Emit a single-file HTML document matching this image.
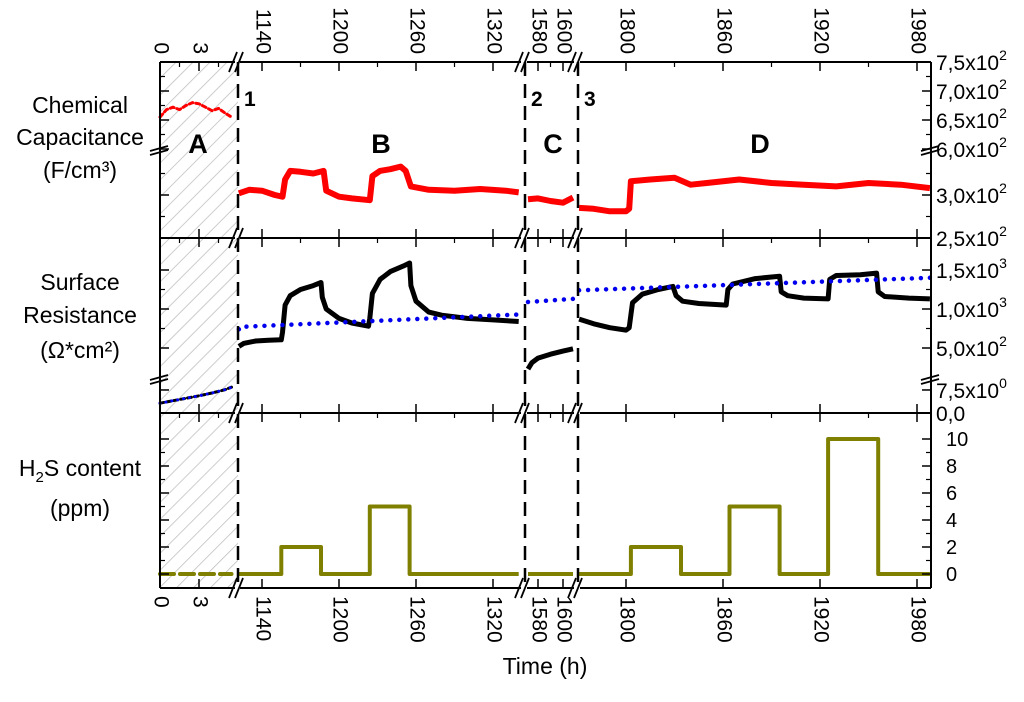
<!DOCTYPE html>
<html><head><meta charset="utf-8"><style>
body{margin:0;background:#fff}
svg text{font-family:"Liberation Sans",sans-serif;fill:#000}
</style></head><body>
<svg id="chart" width="1024" height="697" viewBox="0 0 1024 697" xmlns="http://www.w3.org/2000/svg">
<defs>
<pattern id="hatch" patternUnits="userSpaceOnUse" width="12" height="12" patternTransform="rotate(45)">
<line x1="0" y1="0" x2="0" y2="12" stroke="#c0c0c0" stroke-width="1.6"/>
</pattern>
</defs>
<rect x="160" y="62" width="78" height="526" fill="url(#hatch)"/>
<g id="marks"></g>
<g id="axes"></g>
<g text-anchor="middle">
<text x="80" y="113" font-size="23">Chemical</text>
<text x="80" y="145" font-size="23">Capacitance</text>
<text x="80" y="178" font-size="23">(F/cm³)</text>
<text x="80" y="290" font-size="23">Surface</text>
<text x="80" y="323" font-size="23">Resistance</text>
<text x="80" y="358" font-size="23">(Ω*cm²)</text>
<text x="80" y="476" font-size="23">H<tspan font-size="15" dy="6">2</tspan><tspan dy="-6">S content</tspan></text>
<text x="80" y="516" font-size="23">(ppm)</text>
</g>
<text x="545" y="674" font-size="23" text-anchor="middle">Time (h)</text>
<g font-weight="bold">
<text x="244" y="106" font-size="21">1</text>
<text x="531" y="106" font-size="21">2</text>
<text x="584" y="106" font-size="21">3</text>
<text x="198" y="153" font-size="27" text-anchor="middle">A</text>
<text x="381" y="153" font-size="27" text-anchor="middle">B</text>
<text x="553" y="153" font-size="27" text-anchor="middle">C</text>
<text x="760" y="153" font-size="27" text-anchor="middle">D</text>
</g>
</svg>
<script>
// ---- data ----
const capA_t=[0,0.5,1,1.5,2,2.5,3,3.5,4,4.5,5,5.5];
const capA_v=[655,668,672,668,675,680,678,672,666,670,662,655];
const capB_t=[1122,1130,1140,1150,1156,1158,1162,1170,1180,1188,1190,1200,1210,1224,1226,1232,1240,1248,1252,1256,1270,1290,1310,1330,1340];
const capB_v=[302,306,305,300,298,318,328,327,325,328,305,298,296,294,322,328,330,333,328,310,306,305,307,305,303];
const capC_t=[1572,1580,1590,1600,1608];
const capC_v=[295,296,293,291,297];
const capD_t=[1771,1780,1790,1800,1802,1803,1815,1830,1840,1850,1870,1890,1910,1930,1950,1970,1988];
const capD_v=[285,284,281,281,284,316,318,320,312,314,318,314,312,310,314,312,308];
const resA_t=[0,1,2,3,4,5,5.5];
const resA_v=[3.2,4.0,4.8,5.6,6.5,7.6,8.4];
const resB_t=[1122,1126,1135,1145,1155,1156,1158,1162,1170,1180,1186,1187,1190,1200,1210,1223,1224,1226,1232,1240,1250,1255,1256,1260,1270,1280,1300,1320,1340];
const resB_v=[520,560,590,600,605,700,1050,1170,1250,1300,1340,1150,1000,880,820,780,880,1200,1380,1480,1550,1590,1300,1100,960,920,880,860,840];
const blueB_t=[1122,1123,1340];
const blueB_v=[740,770,930];
const resC_t=[1572,1575,1580,1590,1600,1608];
const resC_v=[230,310,370,420,460,490];
const blueC_t=[1572,1608];
const blueC_v=[1090,1130];
const resD_t=[1771,1780,1790,1800,1802,1804,1810,1820,1829,1831,1835,1845,1862,1863,1866,1880,1895,1896,1900,1910,1925,1926,1930,1945,1955,1956,1960,1975,1988];
const resD_v=[870,810,760,730,760,1080,1190,1250,1290,1170,1100,1070,1050,1250,1320,1390,1420,1220,1170,1140,1130,1380,1430,1440,1460,1220,1160,1140,1130];
const blueD_t=[1771,1988];
const blueD_v=[1240,1400];
const h2sB_t=[1122,1155,1155,1186,1186,1224,1224,1255,1255,1340];
const h2sB_v=[0,0,2,2,0,0,5,5,0,0];
const h2sC_t=[1572,1608];
const h2sC_v=[0,0];
const h2sD_t=[1771,1803,1803,1834,1834,1864,1864,1895,1895,1925,1925,1956,1956,1988];
const h2sD_v=[0,0,2,2,0,0,5,5,0,0,10,10,0,0];
const h2sA_t=[0,5.5];
const h2sA_v=[0,0];
const xTicksA=[0,3], xTicksB=[1140,1200,1260,1320], xTicksC=[1580,1600], xTicksD=[1800,1860,1920,1980];
const capTickLabels=["7,5x10²","7,0x10²","6,5x10²","6,0x10²","3,0x10²","2,5x10²"];
const capTickVals=[750,700,650,600,300,250];
const resTickLabels=["1,5x10³","1,0x10³","5,0x10²","7,5x10⁰","0,0"];
const resTickVals=[1500,1000,500,7.5,0];
const h2sTickVals=[0,2,4,6,8,10];

// ---- scales ----
const L=160,R=931,T=62,M1=238,M2=413,B=588;
const segs=[{t0:0,x0:160,k:13,x1:238,s:160},{t0:1140,x0:262,k:77/60,x1:524,s:240},{t0:1580,x0:538,k:1.25,x1:577,s:527},{t0:1800,x0:626,k:97/60,x1:931,s:580}];
function seg(t){return t<100?segs[0]:t<1500?segs[1]:t<1700?segs[2]:segs[3];}
function xOf(t){const s=seg(t);return s.x0+(t-s.t0)*s.k;}
function yCap(v){return v>=600?149-(v-600)*0.58:195-(v-300)*0.86;}
function yRes(v){return v>=100?348-(v-500)*0.078:413-v*3.07;}
function yH(v){return 574-v*13.5;}
const NS="http://www.w3.org/2000/svg";
const marks=document.getElementById('marks'),axes=document.getElementById('axes');
function el(tag,attrs,parent){const e=document.createElementNS(NS,tag);for(const k in attrs)e.setAttribute(k,attrs[k]);parent.appendChild(e);return e;}
function series(ts,vs,yf,name,stroke,w,dash){
  const pts=ts.map((t,i)=>xOf(t).toFixed(1)+','+yf(vs[i]).toFixed(1)).join(' ');
  const p=el('polyline',{points:pts,fill:'none',stroke:stroke,'stroke-width':w,'stroke-linejoin':'round','stroke-linecap':dash?'round':'butt'},marks);
  if(dash)p.setAttribute('stroke-dasharray',dash);
  
  
}
series(capA_t,capA_v,yCap,'capacitance-a','#f00',3,'4 3');
series(capB_t,capB_v,yCap,'capacitance-b','#f00',6);
series(capC_t,capC_v,yCap,'capacitance-c','#f00',6);
series(capD_t,capD_v,yCap,'capacitance-d','#f00',6);
series(resA_t,resA_v,yRes,'resistance-a','#000',3,'4 3');
series(resB_t,resB_v,yRes,'resistance-b','#000',5);
series(resC_t,resC_v,yRes,'resistance-c','#000',5);
series(resD_t,resD_v,yRes,'resistance-d','#000',5);
series(resA_t,resA_v,yRes,'fit-a','#00f',3,'0 6');
series(blueB_t,blueB_v,yRes,'fit-b','#0000ee',4.5,'0 9');
series(blueC_t,blueC_v,yRes,'fit-c','#0000ee',4.5,'0 9');
series(blueD_t,blueD_v,yRes,'fit-d','#0000ee',4.5,'0 9');
series(h2sA_t,h2sA_v,yH,'h2s-a','#808000',4,'14 6');
series(h2sB_t,h2sB_v,yH,'h2s-b','#808000',4);
series(h2sC_t,h2sC_v,yH,'h2s-c','#808000',4);
series(h2sD_t,h2sD_v,yH,'h2s-d','#808000',4);

// ---- frame ----
function line(x1,y1,x2,y2,w,name,dash){const l=el('line',{x1,y1,x2,y2,stroke:'#000','stroke-width':w||2},axes);if(dash)l.setAttribute('stroke-dasharray',dash);return l;}
line(L,T,L,B,2,'left-axis');line(R,T,R,B,2,'right-axis');
[T,M1,M2,B].forEach(y=>{segs.forEach((s,i)=>{line(s.s,y,s.x1-(i<3?3:0),y,2,'panel-border');});});
line(238,62,238,588,2.5,'divider-1','14 8');
line(525,62,525,588,2.5,'divider-2','14 8');
line(578,62,578,588,2.5,'divider-3','14 8');
[238,524,577].forEach(x=>{[T,M1,M2,B].forEach(y=>{line(x-9,y+10,x-1,y-10,1.8,'axis-break');line(x-3,y+10,x+5,y-10,1.8,'axis-break');});});
[[L,149],[L,378],[R,149],[R,378]].forEach(([x,y])=>{line(x-10,y+2,x+8,y-3,1.8,'axis-break');line(x-10,y+6,x+8,y+1,1.8,'axis-break');});
function xticks(arr,minorStep,s){
  arr.forEach(t=>{const x=xOf(t);
    [T,M1,M2].forEach(y=>line(x,y,x,y+9,1.5,'x-tick'));[M1,M2,B].forEach(y=>line(x,y,x,y-9,1.5,'x-tick'));
    [[T-8,'top'],[B+8,'bottom']].forEach(([y,pos])=>{
      const tx=el('text',{x:x,y:y,'font-size':21,transform:`rotate(90 ${x} ${y})`,'dominant-baseline':'middle','text-anchor':pos=='top'?'end':'start'},axes);
      tx.textContent=t;
      
      
    });
    const xm=xOf(t+minorStep);
    if(xm<s.x1-4)[T,M1,M2].forEach(y=>line(xm,y,xm,y+5,1.2,'x-minor-tick'));
  });
}
xticks(xTicksA,1.5,segs[0]);xticks(xTicksB,30,segs[1]);xticks(xTicksC,10,segs[2]);xticks(xTicksD,30,segs[3]);
function ytick(y,label,name){line(R-9,y,R,y,1.5,name);line(L,y,L+9,y,1.5,name);
  if(label!==null){const tx=el('text',{x:936,y:y+8,'font-size':21},axes);
    const m=label.match(/^(.*x10)(.)$/);
    if(m){tx.textContent=m[1];const sp=el('tspan',{'font-size':14,dy:-10},tx);sp.textContent=({'²':'2','³':'3','⁰':'0'})[m[2]];}else tx.textContent=label;
    
    }}
capTickVals.forEach((v,i)=>ytick(yCap(v),capTickLabels[i],'cap-tick'));
resTickVals.forEach((v,i)=>ytick(yRes(v),i==4?null:resTickLabels[i],'res-tick'));
h2sTickVals.forEach(v=>{const y=yH(v);line(R-9,y,R,y,1.5,'h2s-tick');line(L,y,L+9,y,1.5,'h2s-tick');
  const tx=el('text',{x:946,y:y+7,'font-size':20},axes);tx.textContent=v;
  
  
  if(v<10){const ym=yH(v+1);line(R-5,ym,R,ym,1.2,'h2s-minor');line(L,ym,L+5,ym,1.2,'h2s-minor');}});
[725,675,625,325,275].forEach(v=>{const y=yCap(v);line(R-5,y,R,y,1.2,'cap-minor');line(L,y,L+5,y,1.2,'cap-minor');});
[1250,750].forEach(v=>{const y=yRes(v);line(R-5,y,R,y,1.2,'res-minor');line(L,y,L+5,y,1.2,'res-minor');});
const t0=el('text',{x:936,y:421,'font-size':21},axes);t0.textContent='0,0';


</script>
</body></html>
